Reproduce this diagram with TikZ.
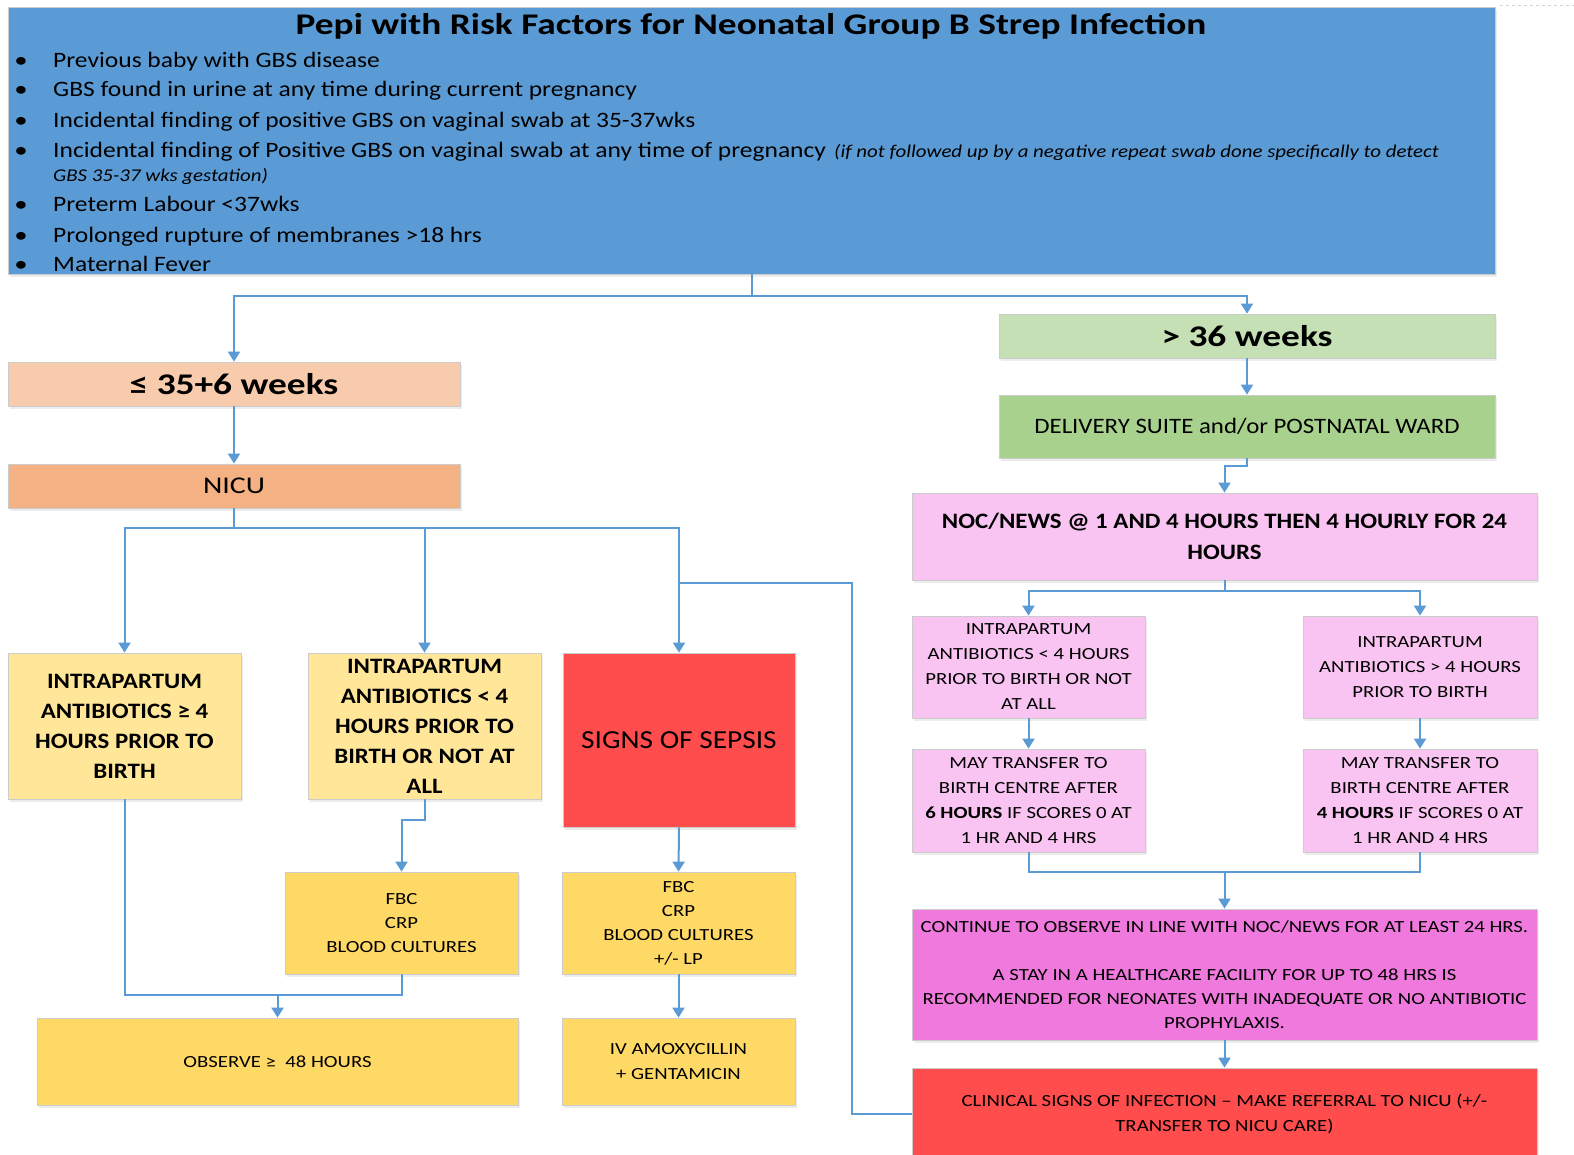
\documentclass[tikz,border=0pt]{standalone}
\usepackage{fontspec}
\setmainfont{Carlito}[FakeStretch=1.22]
\newfontfamily\wideA{Carlito}[FakeStretch=1.245]
\newfontfamily\wideB{Carlito}[FakeStretch=1.13]
\newfontfamily\wideC{Carlito}[FakeStretch=1.16]
\usetikzlibrary{arrows.meta,shadows}
\definecolor{cblue}{HTML}{5B9BD5}
\definecolor{hdrblue}{HTML}{5B9BD5}
\definecolor{cpeach}{HTML}{F8CBAD}
\definecolor{corange}{HTML}{F4B183}
\definecolor{cpaleyel}{HTML}{FFE699}
\definecolor{cyel}{HTML}{FFD966}
\definecolor{cred}{HTML}{FF4C4C}
\definecolor{cpalegreen}{HTML}{C5E0B4}
\definecolor{cgreen}{HTML}{A9D18E}
\definecolor{cpink}{HTML}{F9C4F1}
\definecolor{cmagenta}{HTML}{EF79DC}
\newcommand\fs[2]{\fontsize{#1}{#2}\selectfont}
\tikzset{
  box/.style={draw=gray!40, line width=0.8pt, inner sep=0pt, align=center,
    drop shadow={shadow xshift=1.5pt, shadow yshift=-2.5pt, opacity=0.15}},
  conn/.style={draw=cblue, line width=2pt},
  arr/.style={conn, -{Triangle[width=12pt,length=10pt]}},
  hline/.style={anchor=base west, inner sep=0pt, font=\wideC\fs{22}{26}},
  bul/.style={anchor=base, inner sep=0pt, font=\fs{22}{26}},
}
\begin{document}
\begin{tikzpicture}[x=1pt,y=-1pt]
\useasboundingbox (0,0) rectangle (1574,1154);
\fill[white] (0,0) rectangle (1574,1154);
\draw[gray!35, dashed, line width=0.8pt] (1500,5) -- (1574,5);

% header
\node[box, fill=hdrblue, minimum width=1487pt, minimum height=267pt] (hdr) at (751.5,140.5) {};
\node[anchor=base, inner sep=0pt, font=\wideA\fs{30}{36}\bfseries] (title) at (751,34) {Pepi with Risk Factors for Neonatal Group B Strep Infection};
\node[bul] (d1) at (21,67) {•};
\node[hline] (l1) at (53,67) {Previous baby with GBS disease};
\node[bul] (d2) at (21,96) {•};
\node[hline] (l2) at (53,96) {GBS found in urine at any time during current pregnancy};
\node[bul] (d3) at (21,127) {•};
\node[hline] (l3) at (53,127) {Incidental finding of positive GBS on vaginal swab at 35-37wks};
\node[bul] (d4) at (21,157) {•};
\node[hline] (l4) at (53,157) {Incidental finding of Positive GBS on vaginal swab at any time of pregnancy};
\node[anchor=base west, inner sep=0pt, font=\wideC\fs{18}{22}\itshape] (l4b) at (834,157) {(if not followed up by a negative repeat swab done specifically to detect};
\node[anchor=base west, inner sep=0pt, font=\wideC\fs{18}{22}\itshape] (l4c) at (53,181) {GBS 35-37 wks gestation)};
\node[bul] (d5) at (21,211) {•};
\node[hline] (l5) at (53,211) {Preterm Labour <37wks};
\node[bul] (d6) at (21,242) {•};
\node[hline] (l6) at (53,242) {Prolonged rupture of membranes >18 hrs};
\node[bul] (d7) at (21,271) {•};
\node[hline] (l7) at (53,271) {Maternal Fever};

% left branch
\node[box, fill=cpeach, minimum width=452pt, minimum height=44pt, font=\wideA\fs{30}{36}\bfseries] (le35) at (234,384) {≤ 35+6 weeks};
\node[box, fill=corange, minimum width=452pt, minimum height=44pt, font=\wideA\fs{24}{28}] (nicu) at (234,486) {NICU};
\node[box, fill=cpaleyel, minimum width=233pt, minimum height=146pt, font=\wideB\fs{22}{30}\bfseries] (ia4) at (124.5,726) {INTRAPARTUM\\ANTIBIOTICS ≥ 4\\HOURS PRIOR TO\\BIRTH};
\node[box, fill=cpaleyel, minimum width=233pt, minimum height=146pt, font=\wideB\fs{22}{30}\bfseries] (ialt4) at (424.5,726) {INTRAPARTUM\\ANTIBIOTICS < 4\\HOURS PRIOR TO\\BIRTH OR NOT AT\\ALL};
\node[box, fill=cred, minimum width=232pt, minimum height=174pt, font=\wideB\fs{26}{30}] (sepsis) at (679,740) {SIGNS OF SEPSIS};
\node[box, fill=cyel, minimum width=233pt, minimum height=102pt, font=\fs{17}{24}] (fbc1) at (401.5,923) {FBC\\CRP\\BLOOD CULTURES};
\node[box, fill=cyel, minimum width=233pt, minimum height=102pt, font=\fs{17}{24}] (fbc2) at (678.5,923) {FBC\\CRP\\BLOOD CULTURES\\+/- LP};
\node[box, fill=cyel, minimum width=233pt, minimum height=87pt, font=\fs{17}{25}] (iv) at (678.5,1061.5) {IV AMOXYCILLIN\\+ GENTAMICIN};
\node[box, fill=cyel, minimum width=481pt, minimum height=87pt, font=\fs{17}{25}] (obs) at (277.5,1061.5) {OBSERVE ≥\ \ 48 HOURS};

% right branch
\node[box, fill=cpalegreen, minimum width=496pt, minimum height=44pt, font=\wideA\fs{30}{36}\bfseries] (gt36) at (1247,336) {> 36 weeks};
\node[box, fill=cgreen, minimum width=496pt, minimum height=63pt, font=\wideB\fs{22}{26}] (deliv) at (1247,426.5) {DELIVERY SUITE and/or POSTNATAL WARD};
\node[box, fill=cpink, minimum width=625pt, minimum height=87pt, font=\wideB\fs{22}{31}\bfseries] (noc) at (1224.5,536.5) {NOC/NEWS @ 1 AND 4 HOURS THEN 4 HOURLY FOR 24\\HOURS};
\node[box, fill=cpink, minimum width=233pt, minimum height=102pt, font=\fs{17}{25}] (ria1) at (1028.5,667) {INTRAPARTUM\\ANTIBIOTICS < 4 HOURS\\PRIOR TO BIRTH OR NOT\\AT ALL};
\node[box, fill=cpink, minimum width=234pt, minimum height=102pt, font=\fs{17}{25}] (ria2) at (1420,667) {INTRAPARTUM\\ANTIBIOTICS > 4 HOURS\\PRIOR TO BIRTH};
\node[box, fill=cpink, minimum width=233pt, minimum height=103pt, font=\fs{17}{25}] (mt1) at (1028.5,800.5) {MAY TRANSFER TO\\BIRTH CENTRE AFTER\\\textbf{6 HOURS} IF SCORES 0 AT\\1 HR AND 4 HRS};
\node[box, fill=cpink, minimum width=234pt, minimum height=103pt, font=\fs{17}{25}] (mt2) at (1420,800.5) {MAY TRANSFER TO\\BIRTH CENTRE AFTER\\\textbf{4 HOURS} IF SCORES 0 AT\\1 HR AND 4 HRS};
\node[box, fill=cmagenta, minimum width=625pt, minimum height=131pt, font=\fs{17}{24}] (cont) at (1224.5,974.5) {CONTINUE TO OBSERVE IN LINE WITH NOC/NEWS FOR AT LEAST 24 HRS.\\[24pt]A STAY IN A HEALTHCARE FACILITY FOR UP TO 48 HRS IS\\RECOMMENDED FOR NEONATES WITH INADEQUATE OR NO ANTIBIOTIC\\PROPHYLAXIS.};
\node[box, fill=cred, minimum width=625pt, minimum height=92pt, font=\fs{17}{25}] (clin) at (1224.5,1114) {CLINICAL SIGNS OF INFECTION – MAKE REFERRAL TO NICU (+/-\\TRANSFER TO NICU CARE)};

% junctions
\coordinate (j0) at (751.5,296);
\coordinate (j1) at (234,528);
\coordinate (j2) at (679,583);
\coordinate (j2r) at (852,583);
\coordinate (j3) at (277.5,995);
\coordinate (j4) at (1224.5,591);
\coordinate (j5) at (1224.5,872);

% connectors
\draw[conn] (hdr.south) -- (j0);
\draw[arr] (j0) -| (le35.north);
\draw[arr] (j0) -| (gt36.north);
\draw[arr] (le35.south) -- (nicu.north);
\draw[conn] (nicu.south) -- (j1);
\draw[arr] (j1) -| (ia4.north);
\draw[arr] (j1) -| (ialt4.north);
\draw[arr] (j1) -| (sepsis.north);
\draw[conn] (j2) -- (j2r) |- (clin.west);
\draw[arr] (ialt4.south) -- ++(0,21) -| (fbc1.north);
\draw[arr] (sepsis.south) -- (fbc2.north);
\draw[arr] (fbc2.south) -- (iv.north);
\draw[conn] (ia4.south) |- (j3);
\draw[conn] (fbc1.south) |- (j3);
\draw[arr] (j3) -- (obs.north);
\draw[arr] (gt36.south) -- (deliv.north);
\draw[arr] (deliv.south) -- ++(0,8) -| (noc.north);
\draw[conn] (noc.south) -- (j4);
\draw[arr] (j4) -| (ria1.north);
\draw[arr] (j4) -| (ria2.north);
\draw[arr] (ria1.south) -- (mt1.north);
\draw[arr] (ria2.south) -- (mt2.north);
\draw[conn] (mt1.south) |- (j5);
\draw[conn] (mt2.south) |- (j5);
\draw[arr] (j5) -- (cont.north);
\draw[arr] (cont.south) -- (clin.north);
\end{tikzpicture}
\end{document}
